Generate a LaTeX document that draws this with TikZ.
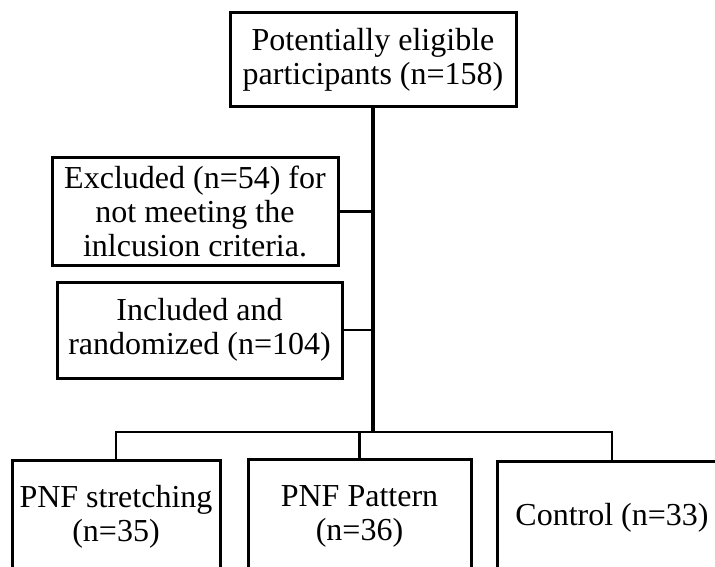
\documentclass[tikz,border=0pt]{standalone}
\usepackage{fontspec}
\setmainfont{Liberation Serif}
\usepackage{tikz}
\usetikzlibrary{calc}

\tikzset{
  flowbox/.style={draw, line width=1.5pt, inner sep=0pt, align=center,
    font=\fontsize{16}{17}\selectfont},
  link/.style={line width=1.2pt},
  trunk/.style={line width=2pt}
}

\begin{document}
\begin{tikzpicture}[x=0.5pt, y=-0.5pt]

        \useasboundingbox (0,0) rectangle (715,566);

        % screening
        \node[flowbox, minimum width=143pt, minimum height=47pt] (elig) at (373,60)
            {Potentially eligible\\participants (n=158)};
        \node[flowbox, minimum width=143pt, minimum height=53.5pt] (excl) at (195,211.5)
            {Excluded (n=54) for\\not meeting the\\inlcusion criteria.};
        \node[flowbox, minimum width=142.5pt, minimum height=48pt] (incl) at (199.5,330)
            {Included and\\randomized (n=104)};

        % groups
        \node[flowbox, minimum width=104pt, minimum height=57pt] (stretch) at (116,517)
            {PNF stretching\\(n=35)};
        \node[flowbox, minimum width=111.5pt, minimum height=57pt] (pattern) at (359.5,516)
            {PNF Pattern\\(n=36)};
        \node[flowbox, minimum width=115pt, minimum height=57pt] (control) at (612,518)
            {Control (n=33)};

        \coordinate (bus) at (373,432);

        % lines
        \draw[trunk] (elig.south) -- (bus);
        \draw[link] (excl.east) -- (excl.east -| bus);
        \draw[link] (incl.east) -- (incl.east -| bus);
        \draw[link] (stretch.north) |- (bus) -| (control.north);
        \draw[link] (pattern.north) -- (pattern.north |- bus);

    \end{tikzpicture}
\end{document}
